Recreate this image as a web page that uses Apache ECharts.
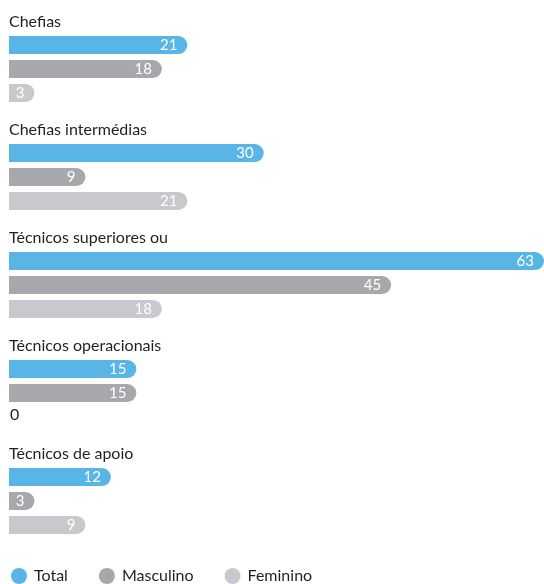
<!DOCTYPE html>
<html>
<head>
<meta charset="utf-8">
<script src="https://cdn.jsdelivr.net/npm/echarts@6/dist/echarts.min.js"></script>
<style>
  html, body { margin: 0; padding: 0; background: #fff; }
  #chart { width: 544px; height: 584px; }
</style>
</head>
<body>
<div id="chart"></div>
<script>
// Staff by professional group and sex
const categories = ['Chefias', 'Chefias intermédias', 'Técnicos superiores ou', 'Técnicos operacionais', 'Técnicos de apoio'];
const seriesNames = ['Total', 'Masculino', 'Feminino'];
const totalValues = [21, 30, 63, 15, 12];
const maleValues = [18, 9, 45, 15, 3];
const femaleValues = [3, 21, 18, 0, 9];

const colors = ['#59b5e6', '#a7a8ac', '#c8c9cc'];
const font = 'Lato, "Open Sans", sans-serif';

function toData(values) {
  return values.map(v => v === 0
    ? { value: v, label: { position: 'insideLeft', distance: 1, color: '#231f20', fontSize: 16, offset: [0, -2] } }
    : v);
}

function makeSeries(name, values, color) {
  return {
    name: name,
    type: 'bar',
    data: toData(values),
    barWidth: 18,
    barGap: '33%',
    itemStyle: { color: color, borderRadius: [0, 9, 9, 0] },
    label: {
      show: true,
      position: 'insideRight',
      distance: 10,
      color: '#ffffff',
      fontFamily: font,
      fontSize: 15
    }
  };
}

const chart = echarts.init(document.getElementById('chart'));
chart.setOption({
  animation: false,
  color: colors,
  grid: { left: 9, right: 0, top: 15, bottom: 29, containLabel: false },
  xAxis: {
    type: 'value',
    min: 0,
    max: 63,
    show: false
  },
  yAxis: {
    type: 'category',
    data: categories,
    inverse: true,
    axisLine: { show: false },
    axisTick: { show: false },
    splitLine: { show: false },
    axisLabel: {
      inside: true,
      margin: 0,
      align: 'left',
      verticalAlign: 'bottom',
      padding: [0, 0, 39, 0],
      color: '#231f20',
      fontFamily: font,
      fontSize: 16
    }
  },
  legend: {
    data: seriesNames,
    left: 6,
    top: 563,
    icon: 'circle',
    itemWidth: 16,
    itemHeight: 16,
    itemGap: 31,
    textStyle: { color: '#231f20', fontFamily: font, fontSize: 16, padding: [0, 0, 0, 2] }
  },
  series: [
    makeSeries(seriesNames[0], totalValues, colors[0]),
    makeSeries(seriesNames[1], maleValues, colors[1]),
    makeSeries(seriesNames[2], femaleValues, colors[2])
  ]
});
</script>
</body>
</html>
